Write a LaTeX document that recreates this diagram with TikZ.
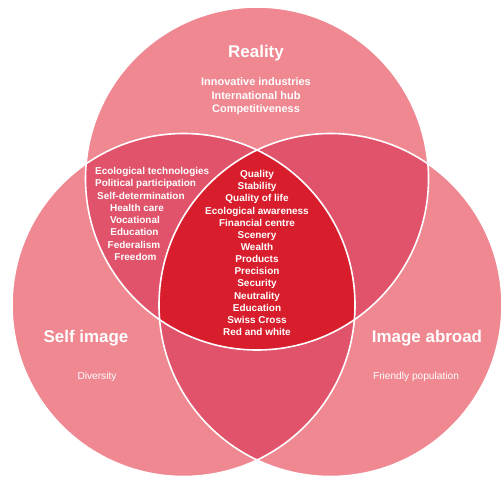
\documentclass[tikz,border=0pt]{standalone}
\usepackage{fontspec}
\setmainfont{Liberation Sans}
\definecolor{outerpink}{HTML}{EF8891}
\definecolor{pairpink}{HTML}{E0536A}
\definecolor{corered}{HTML}{D81E2C}
\begin{document}
\begin{tikzpicture}[x=1bp,y=-1bp,
  title/.style={text=white,inner sep=0pt,font=\bfseries\fontsize{17}{20}\selectfont},
  item/.style={text=white,inner sep=0pt,font=\bfseries\fontsize{10}{12.2}\selectfont},
  small/.style={text=white,inner sep=0pt,font=\fontsize{10.2}{12}\selectfont},
  group/.style={item,align=center}]
\useasboundingbox (0,0) rectangle (503,477);
\def\R{171.5}
\coordinate (ct) at (257,178.5);
\coordinate (cl) at (183.5,305);
\coordinate (cr) at (330.5,305);
% base circles
\fill[outerpink] (ct) circle (\R);
\fill[outerpink] (cl) circle (\R);
\fill[outerpink] (cr) circle (\R);
% pair overlaps
\begin{scope}
  \clip (ct) circle (\R);
  \fill[pairpink] (cl) circle (\R);
  \fill[pairpink] (cr) circle (\R);
\end{scope}
\begin{scope}
  \clip (cl) circle (\R);
  \fill[pairpink] (cr) circle (\R);
\end{scope}
% triple overlap
\begin{scope}
  \clip (ct) circle (\R);
  \clip (cl) circle (\R);
  \fill[corered] (cr) circle (\R);
\end{scope}
% white boundaries
\draw[white,line width=1.6bp] (ct) circle (\R);
\draw[white,line width=1.6bp] (cl) circle (\R);
\draw[white,line width=1.6bp] (cr) circle (\R);
% titles
\node[title] (treal) at (256,53) {Reality};
\node[title] (tself) at (86,338) {Self image};
\node[title] (tabroad) at (427,338) {Image abroad};
% top group
\node[item,align=center,font=\bfseries\fontsize{11}{13.6}\selectfont] (topgrp) at (256,96.5)
  {Innovative industries\\International hub\\Competitiveness};
% left group
\node[item,anchor=west] (l1) at (95,172) {Ecological technologies};
\node[item,anchor=west] (l2) at (95,183.5) {Political participation};
\node[item,anchor=west] (l3) at (97,195.5) {Self-determination};
\node[item] (l4) at (137,207.5) {Health care};
\node[item] (l5) at (135,220) {Vocational};
\node[item] (l6) at (134.5,232) {Education};
\node[item] (l7) at (134,244.5) {Federalism};
\node[item] (l8) at (135.5,257) {Freedom};
% center group
\node[group] (core) at (257,253)
  {Quality\\Stability\\Quality of life\\Ecological awareness\\Financial centre\\Scenery\\Wealth\\Products\\Precision\\Security\\Neutrality\\Education\\Swiss Cross\\Red and white};
% small labels
\node[small] (div) at (97,377) {Diversity};
\node[small] (friend) at (416,377) {Friendly population};
\end{tikzpicture}
\end{document}
